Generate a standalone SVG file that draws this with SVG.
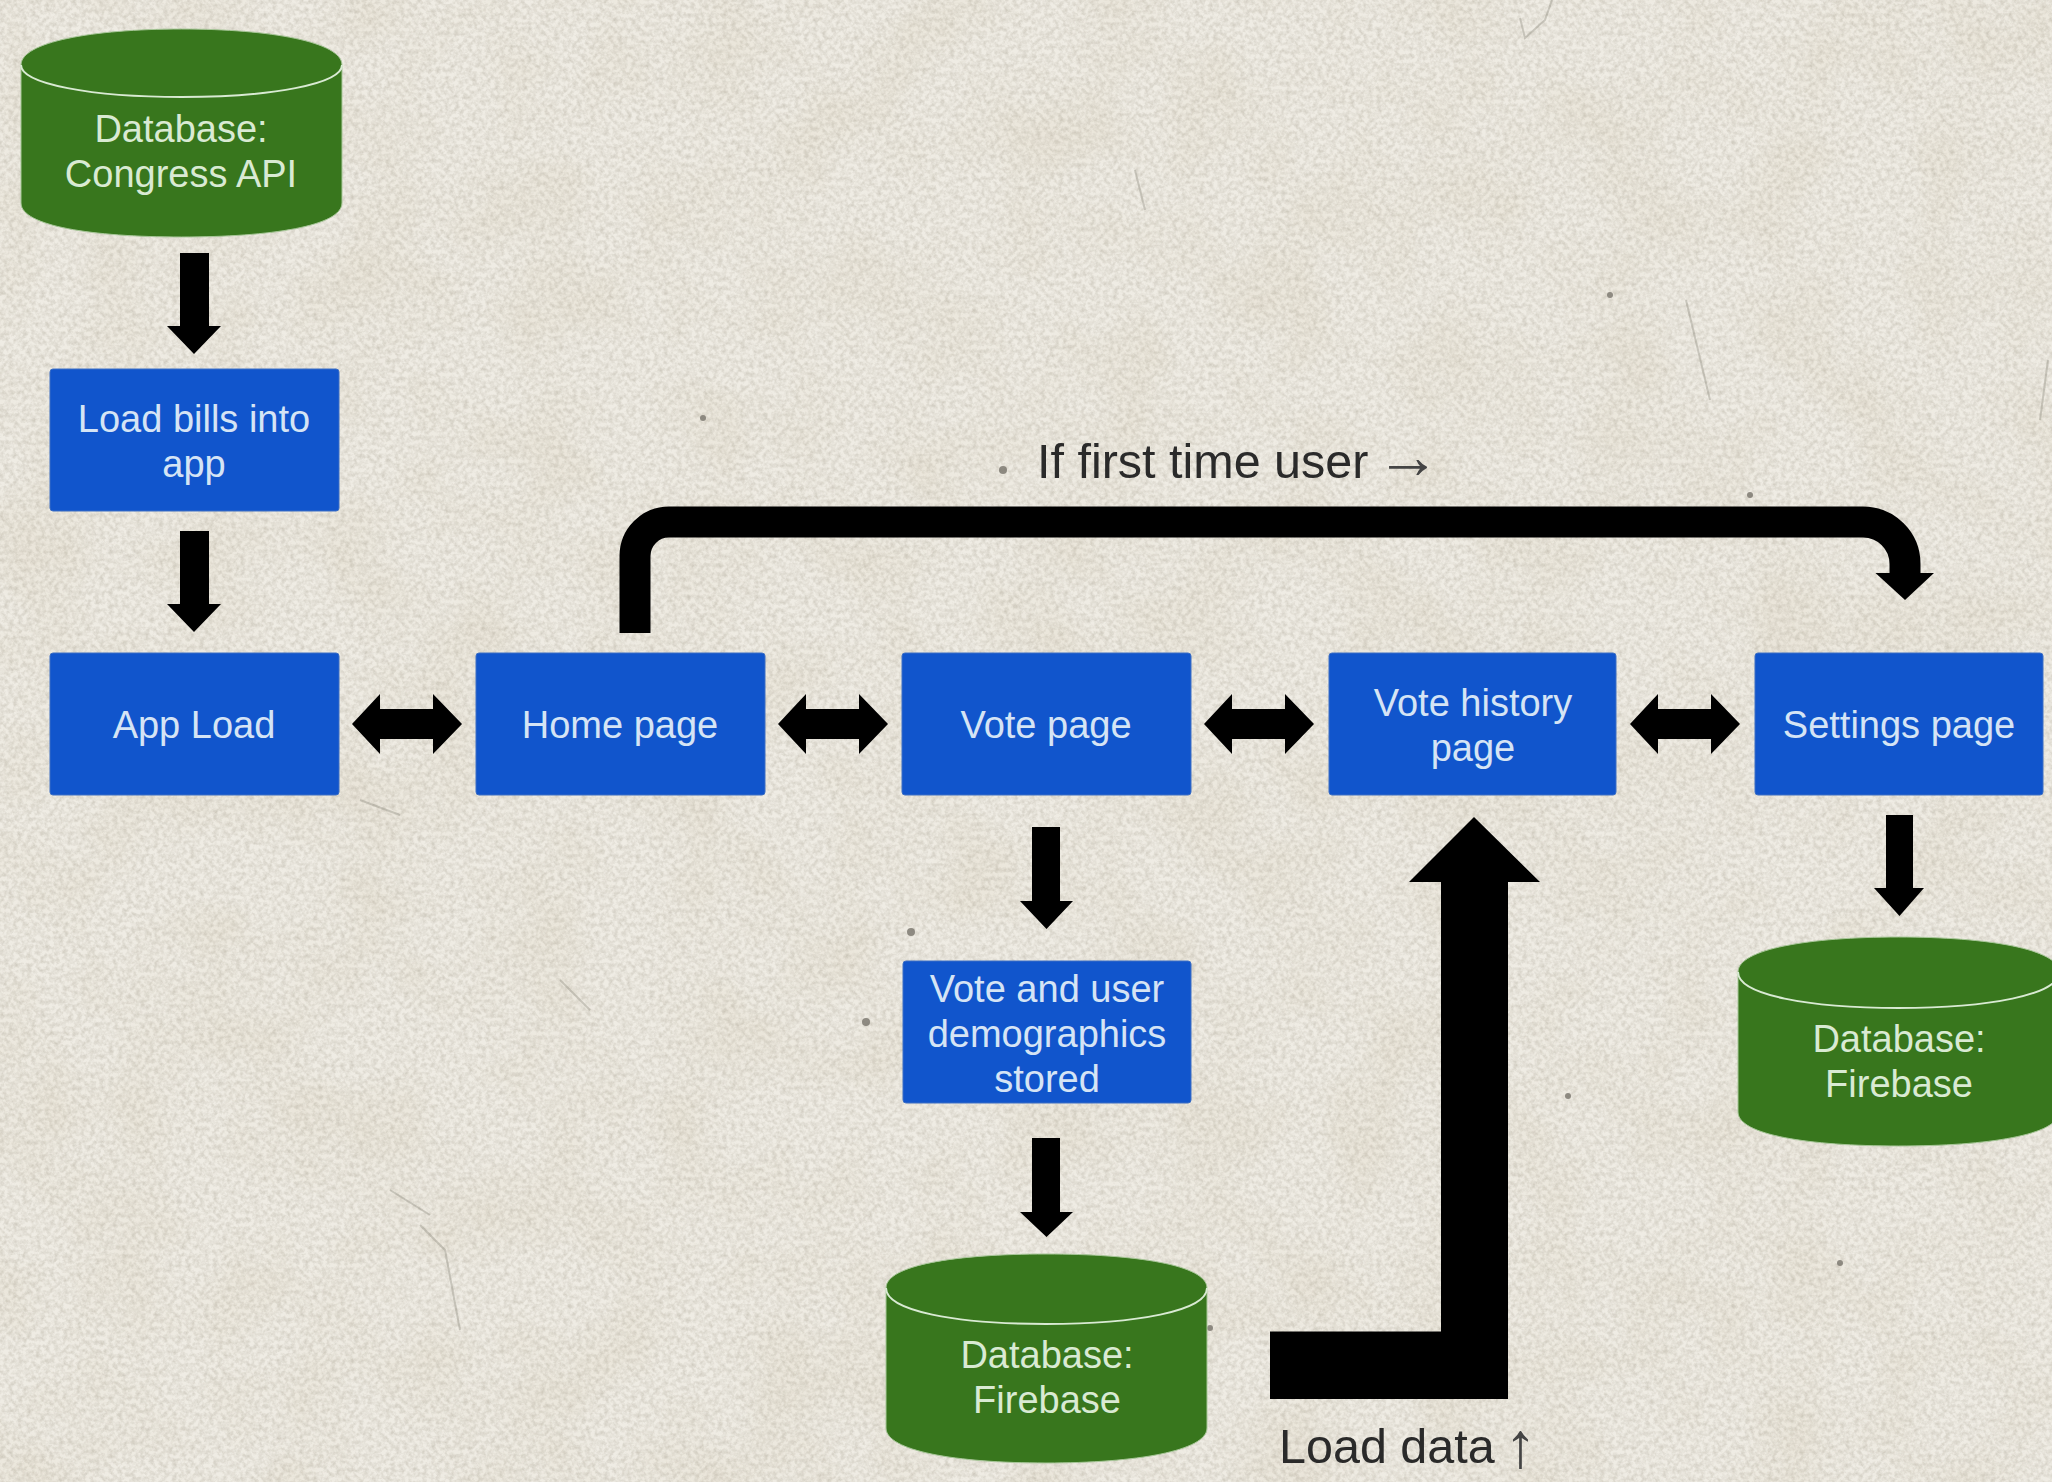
<svg xmlns="http://www.w3.org/2000/svg" width="2052" height="1482" viewBox="0 0 2052 1482">
<defs>
<filter id="paper" x="0" y="0" width="100%" height="100%" color-interpolation-filters="sRGB">
<feTurbulence type="fractalNoise" baseFrequency="0.22" numOctaves="3" seed="7" result="n"/>
<feColorMatrix in="n" type="matrix" values="0 0 0 0 0.55  0 0 0 0 0.52  0 0 0 0 0.45  1.8 0 0 0 -0.62"/>
</filter>
<filter id="mottle" x="0" y="0" width="100%" height="100%" color-interpolation-filters="sRGB">
<feTurbulence type="fractalNoise" baseFrequency="0.012" numOctaves="3" seed="3" result="n"/>
<feColorMatrix in="n" type="matrix" values="0 0 0 0 0.78  0 0 0 0 0.72  0 0 0 0 0.58  2.4 0 0 0 -0.95"/>
</filter>
<path id="dbl" d="M0 30 L28 0 V15 H81 V0 L110 30 L81 60 V45 H28 V60 Z"/>
</defs>
<style>
.box{fill:#1155cc;stroke:#3d6fc4;stroke-width:1}
.cyl{fill:#38761d;stroke:#a9c79a;stroke-width:1}
.rim{fill:none;stroke:#d9ead3;stroke-width:2}
text{font-family:"Liberation Sans",Arial,sans-serif;text-anchor:middle}
.bt{font-size:38px;fill:#d5e4f5}
.gt{font-size:38px;fill:#d9ead3}
.lb{font-size:48.500px;fill:#2a2a2a;text-anchor:start}
.ar{font-size:64px;fill:#444444}
.arrow{fill:#000000}
.speck{fill:#77736a;opacity:.8}
.scratch{fill:none;stroke:#8f8b80;stroke-width:2;opacity:.4}
</style>
<g id="paper-background">
<rect width="2052" height="1482" fill="#efece4"/>
<rect width="2052" height="1482" filter="url(#mottle)" opacity="0.12"/>
<rect width="2052" height="1482" filter="url(#paper)" opacity="0.3"/>
<circle class="speck" cx="1003" cy="470" r="4"/>
<circle class="speck" cx="703" cy="418" r="3"/>
<circle class="speck" cx="911" cy="932" r="4"/>
<circle class="speck" cx="866" cy="1022" r="4"/>
<circle class="speck" cx="1610" cy="295" r="3"/>
<circle class="speck" cx="1750" cy="495" r="3"/>
<circle class="speck" cx="1840" cy="1263" r="3"/>
<circle class="speck" cx="1568" cy="1096" r="3"/>
<circle class="speck" cx="1210" cy="1328" r="3"/>
<path class="scratch" d="M1520 18L1525 38L1545 20L1552 0"/>
<path class="scratch" d="M1686 300L1710 400"/>
<path class="scratch" d="M1135 170L1145 210"/>
<path class="scratch" d="M2048 360L2040 420"/>
<path class="scratch" d="M420 1225L445 1250L460 1330"/>
<path class="scratch" d="M560 980L590 1010"/>
<path class="scratch" d="M390 1190L430 1215"/>
<path class="scratch" d="M360 800L400 815"/>
</g>
<g id="connectors" class="arrow">
<path d="M180 253H209V326H221L194 354L167 326H180Z"/>
<path d="M180 531H209V604H221L194 632L167 604H180Z"/>
<use href="#dbl" x="352" y="694"/>
<use href="#dbl" x="778" y="694"/>
<use href="#dbl" x="1204" y="694"/>
<use href="#dbl" x="1630" y="694"/>
<path d="M1032 827H1060V901H1073L1046.500 929L1020 901H1032Z"/>
<path d="M1032 1138H1060V1212H1073L1046.500 1237L1020 1212H1032Z"/>
<path d="M1886 815H1913V888H1924L1899.500 916L1874 888H1886Z"/>
<path d="M1270 1331.500H1441V882H1409L1474 817L1540 882H1508V1399H1270Z"/>
<path d="M635 633V556A34 34 0 0 1 669 522H1863A42 42 0 0 1 1905 564V573" fill="none" stroke="#000" stroke-width="31"/>
<path d="M1875.500 573H1934L1905 600Z"/>
</g>
<g id="db-congress"><path class="cyl" d="M21 65C21 42 92 29 181.500 29C271 29 342 42 342 65V203C342 226 271 237 181.500 237C92 237 21 226 21 203Z"/><path class="rim" d="M21 65C21 84 92 97 181.500 97C271 97 342 84 342 65"/><text class="gt" x="181" y="142">Database:</text><text class="gt" x="181" y="187">Congress API</text></g>
<g id="load-bills"><rect class="box" x="50" y="369" width="289" height="142" rx="3"/><text class="bt" x="194" y="432">Load bills into</text><text class="bt" x="194" y="477">app</text></g>
<g id="app-load"><rect class="box" x="50" y="653" width="289" height="142" rx="3"/><text class="bt" x="194" y="738">App Load</text></g>
<g id="home-page"><rect class="box" x="476" y="653" width="289" height="142" rx="3"/><text class="bt" x="620" y="738">Home page</text></g>
<g id="vote-page"><rect class="box" x="902" y="653" width="289" height="142" rx="3"/><text class="bt" x="1046" y="738">Vote page</text></g>
<g id="vote-history"><rect class="box" x="1329" y="653" width="287" height="142" rx="3"/><text class="bt" x="1473" y="716">Vote history</text><text class="bt" x="1473" y="761">page</text></g>
<g id="settings-page"><rect class="box" x="1755" y="653" width="288" height="142" rx="3"/><text class="bt" x="1899" y="738">Settings page</text></g>
<g id="vote-stored"><rect class="box" x="903" y="961" width="288" height="142" rx="3"/><text class="bt" x="1047" y="1002">Vote and user</text><text class="bt" x="1047" y="1047">demographics</text><text class="bt" x="1047" y="1092">stored</text></g>
<g id="db-firebase-vote"><path class="cyl" d="M886 1288C886 1265 956 1254 1046 1254C1136 1254 1207 1265 1207 1288V1428C1207 1451 1136 1463 1046 1463C956 1463 886 1451 886 1428Z"/><path class="rim" d="M886 1288C886 1311 956 1324 1046 1324C1136 1324 1207 1311 1207 1288"/><text class="gt" x="1047" y="1368">Database:</text><text class="gt" x="1047" y="1413">Firebase</text></g>
<g id="db-firebase-settings"><path class="cyl" d="M1738 972C1738 949 1809 937 1898.500 937C1988 937 2059 949 2059 972V1112C2059 1135 1988 1146 1898.500 1146C1809 1146 1738 1135 1738 1112Z"/><path class="rim" d="M1738 972C1738 995 1809 1008 1898.500 1008C1988 1008 2059 995 2059 972"/><text class="gt" x="1899" y="1052">Database:</text><text class="gt" x="1899" y="1097">Firebase</text></g>
<g id="labels"><text class="lb" x="1037" y="478">If first time user <tspan class="ar" dx="-6">→</tspan></text><text class="lb" x="1279" y="1463">Load data <tspan class="ar" dx="-4" dy="4">↑</tspan></text></g>
</svg>
